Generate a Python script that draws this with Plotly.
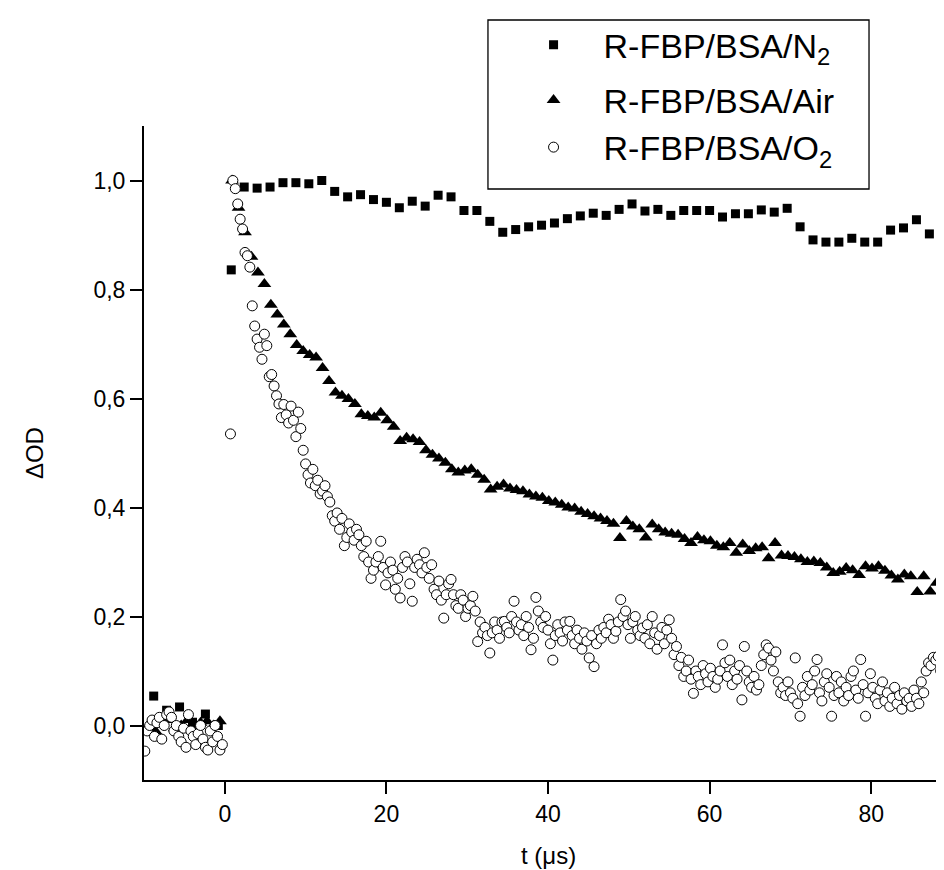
import numpy as np
import plotly.graph_objects as go

# ---------------- data ----------------
# sampling grids: start (µs) and step (µs); values typed below
n2_start, n2_step = -8.8, 1.6
air_pre_start, air_post_start, air_step = -9.4, 0.9, 0.8
o2_pre_start, o2_post_start, o2_step = -9.9, 0.7, 0.3

n2_y = [0.054, 0.028, 0.034, 0.006, 0.021, 0.000,
        0.836, 0.988, 0.986, 0.988, 0.996, 0.996, 0.994, 1.000, 0.980, 0.970,
        0.974, 0.965, 0.960, 0.950, 0.962, 0.953, 0.973, 0.970, 0.945, 0.945,
        0.925, 0.905, 0.910, 0.915, 0.918, 0.922, 0.930, 0.935, 0.940, 0.936,
        0.947, 0.957, 0.944, 0.947, 0.936, 0.945, 0.945, 0.945, 0.933, 0.939,
        0.939, 0.946, 0.942, 0.949, 0.915, 0.891, 0.887, 0.887, 0.894, 0.887,
        0.887, 0.909, 0.913, 0.928, 0.902, 0.882]

air_pre_y = [0.000, -0.010, 0.005, 0.010, -0.005, 0.000, 0.010, -0.010,
             0.005, 0.008, 0.000, 0.008]
air_post_y = [1.000, 0.950, 0.905, 0.860, 0.831, 0.810, 0.772, 0.754, 0.736, 0.718,
              0.698, 0.687, 0.680, 0.675, 0.656, 0.632, 0.611, 0.605, 0.599, 0.590,
              0.571, 0.568, 0.565, 0.574, 0.560, 0.548, 0.522, 0.528, 0.525, 0.520,
              0.505, 0.497, 0.490, 0.482, 0.470, 0.464, 0.468, 0.470, 0.460, 0.451,
              0.433, 0.438, 0.442, 0.435, 0.432, 0.430, 0.424, 0.420, 0.418, 0.412,
              0.409, 0.405, 0.400, 0.398, 0.392, 0.388, 0.384, 0.380, 0.375, 0.370,
              0.344, 0.375, 0.365, 0.360, 0.345, 0.369, 0.360, 0.354, 0.352, 0.350,
              0.342, 0.335, 0.346, 0.340, 0.338, 0.330, 0.327, 0.335, 0.317, 0.332,
              0.320, 0.325, 0.327, 0.307, 0.335, 0.312, 0.311, 0.309, 0.305, 0.300,
              0.301, 0.298, 0.290, 0.280, 0.282, 0.289, 0.285, 0.276, 0.292, 0.288,
              0.292, 0.284, 0.275, 0.268, 0.277, 0.274, 0.245, 0.274, 0.246, 0.262,
              0.276, 0.252]

o2_pre_y = [-0.047, -0.010, 0.000, 0.010, -0.020, 0.005, 0.015, -0.025, 0.000, 0.020,
            0.025, 0.015, -0.010, 0.000, -0.020, -0.030, -0.005, -0.040, 0.020, -0.010,
            -0.020, -0.035, -0.015, 0.000, -0.025, -0.040, -0.045, -0.010, -0.030, 0.000,
            -0.020, -0.045, -0.035]
o2_post_y = [
    0.535, 1.000, 0.985, 0.957, 0.929, 0.911, 0.868, 0.862, 0.841, 0.770,
    0.733, 0.709, 0.694, 0.672, 0.718, 0.697, 0.640, 0.644, 0.623, 0.605,
    0.590, 0.565, 0.589, 0.570, 0.555, 0.586, 0.560, 0.530, 0.575, 0.545,
    0.505, 0.480, 0.460, 0.445, 0.470, 0.440, 0.450, 0.425, 0.430, 0.440,
    0.420, 0.410, 0.385, 0.375, 0.390, 0.360, 0.380, 0.330, 0.345, 0.370,
    0.355, 0.340, 0.360, 0.350, 0.330, 0.310, 0.338, 0.300, 0.270, 0.285,
    0.300, 0.310, 0.338, 0.290, 0.258, 0.280, 0.300, 0.285, 0.250, 0.270,
    0.234, 0.290, 0.310, 0.300, 0.260, 0.228, 0.290, 0.305, 0.295, 0.280,
    0.317, 0.290, 0.270, 0.295, 0.250, 0.240, 0.265, 0.230, 0.197, 0.240,
    0.260, 0.268, 0.240, 0.220, 0.215, 0.240, 0.230, 0.200, 0.215, 0.220,
    0.237, 0.210, 0.154, 0.190, 0.170, 0.180, 0.165, 0.133, 0.170, 0.190,
    0.175, 0.160, 0.190, 0.191, 0.180, 0.170, 0.200, 0.228, 0.190, 0.175,
    0.185, 0.165, 0.200, 0.180, 0.139, 0.160, 0.235, 0.210, 0.190, 0.180,
    0.200, 0.175, 0.150, 0.120, 0.165, 0.185, 0.170, 0.155, 0.190, 0.175,
    0.191, 0.165, 0.150, 0.175, 0.160, 0.140, 0.170, 0.155, 0.124, 0.165,
    0.108, 0.150, 0.175, 0.160, 0.180, 0.170, 0.195, 0.185, 0.160, 0.173,
    0.190, 0.231, 0.200, 0.210, 0.185, 0.160, 0.190, 0.200, 0.175, 0.165,
    0.179, 0.160, 0.185, 0.150, 0.200, 0.170, 0.140, 0.165, 0.180, 0.150,
    0.175, 0.194, 0.160, 0.130, 0.145, 0.110, 0.125, 0.090, 0.100, 0.120,
    0.085, 0.059, 0.100, 0.090, 0.075, 0.110, 0.095, 0.080, 0.105, 0.090,
    0.070, 0.085, 0.100, 0.148, 0.115, 0.090, 0.120, 0.075, 0.100, 0.085,
    0.110, 0.047, 0.145, 0.100, 0.080, 0.070, 0.090, 0.065, 0.075, 0.110,
    0.130, 0.148, 0.142, 0.120, 0.100, 0.135, 0.080, 0.060, 0.070, 0.055,
    0.080, 0.060, 0.050, 0.124, 0.040, 0.017, 0.070, 0.055, 0.090, 0.065,
    0.075, 0.100, 0.121, 0.060, 0.045, 0.080, 0.095, 0.070, 0.017, 0.055,
    0.090, 0.060, 0.080, 0.045, 0.070, 0.055, 0.090, 0.100, 0.065, 0.050,
    0.121, 0.075, 0.017, 0.060, 0.095, 0.070, 0.050, 0.040, 0.065, 0.080,
    0.045, 0.060, 0.035, 0.050, 0.070, 0.040, 0.055, 0.030, 0.060, 0.045,
    0.050, 0.035, 0.065, 0.050, 0.040, 0.080, 0.060, 0.100, 0.115, 0.110,
    0.125, 0.120, 0.127, 0.100, 0.115, 0.105, 0.110, 0.095]

series_names = ["R-FBP/BSA/N<sub>2</sub>", "R-FBP/BSA/Air", "R-FBP/BSA/O<sub>2</sub>"]
x_ticks = [0, 20, 40, 60, 80]
y_ticks = [0.0, 0.2, 0.4, 0.6, 0.8, 1.0]
x_title = "t (\u03bcs)"
y_title = "\u0394OD"


def grid(start, step, n):
    return np.round(start + step * np.arange(n), 3)


n2_x = grid(n2_start, n2_step, len(n2_y))
air_x = np.concatenate([grid(air_pre_start, air_step, len(air_pre_y)),
                        grid(air_post_start, air_step, len(air_post_y))])
air_y = air_pre_y + air_post_y
o2_x = np.concatenate([grid(o2_pre_start, o2_step, len(o2_pre_y)),
                       grid(o2_post_start, o2_step, len(o2_post_y))])
o2_y = o2_pre_y + o2_post_y

FONT = "Liberation Sans, Arial, sans-serif"

fig = go.Figure()
fig.add_trace(go.Scatter(x=n2_x, y=n2_y, mode="markers", name=series_names[0],
                         legendgroup="g1",
                         marker=dict(symbol="square", size=9, color="black",
                                     line=dict(width=0))))
fig.add_trace(go.Scatter(x=air_x, y=air_y, mode="markers", name=series_names[1],
                         legendgroup="g2",
                         marker=dict(symbol="triangle-up", size=12, color="black",
                                     line=dict(width=0))))
fig.add_trace(go.Scatter(x=o2_x, y=o2_y, mode="markers", name=series_names[2],
                         legendgroup="g2",
                         marker=dict(symbol="circle", size=10, color="white",
                                     line=dict(width=1, color="black"))))

axis_common = dict(showline=True, linewidth=2, linecolor="black", ticks="outside",
                   ticklen=12, tickwidth=2, tickcolor="black", showgrid=False,
                   zeroline=False, mirror=False,
                   tickfont=dict(family=FONT, size=23, color="black"))

fig.update_xaxes(range=[-10, 90], tickvals=x_ticks, **axis_common)
fig.update_yaxes(range=[-0.1, 1.1], tickvals=y_ticks, tickformat=".1f", **axis_common)

fig.update_layout(
    width=944, height=870,
    margin=dict(l=136, r=0, t=118, b=98),
    plot_bgcolor="white", paper_bgcolor="white",
    separators=",.",
    font=dict(family=FONT, color="black"),
    showlegend=True,
    legend=dict(x=0.445, y=1.168, xanchor="left", yanchor="top",
                borderwidth=0, bgcolor="rgba(0,0,0,0)",
                font=dict(family=FONT, size=34, color="black"),
                itemwidth=90, tracegroupgap=8),
    shapes=[dict(type="rect", xref="paper", yref="paper",
                 x0=0.4257, x1=0.8973, y0=0.9037, y1=1.1621,
                 line=dict(color="black", width=1.3), fillcolor="rgba(0,0,0,0)",
                 layer="above")],
    annotations=[
        dict(text=x_title, xref="paper", yref="paper", x=0.5, y=-0.116,
             xanchor="center", yanchor="middle", showarrow=False,
             font=dict(family=FONT, size=24, color="black")),
        dict(text=y_title, xref="paper", yref="paper", x=-0.136, y=0.5,
             xanchor="center", yanchor="middle", showarrow=False, textangle=-90,
             font=dict(family=FONT, size=24, color="black")),
    ],
)

fig.write_html("out.html")
